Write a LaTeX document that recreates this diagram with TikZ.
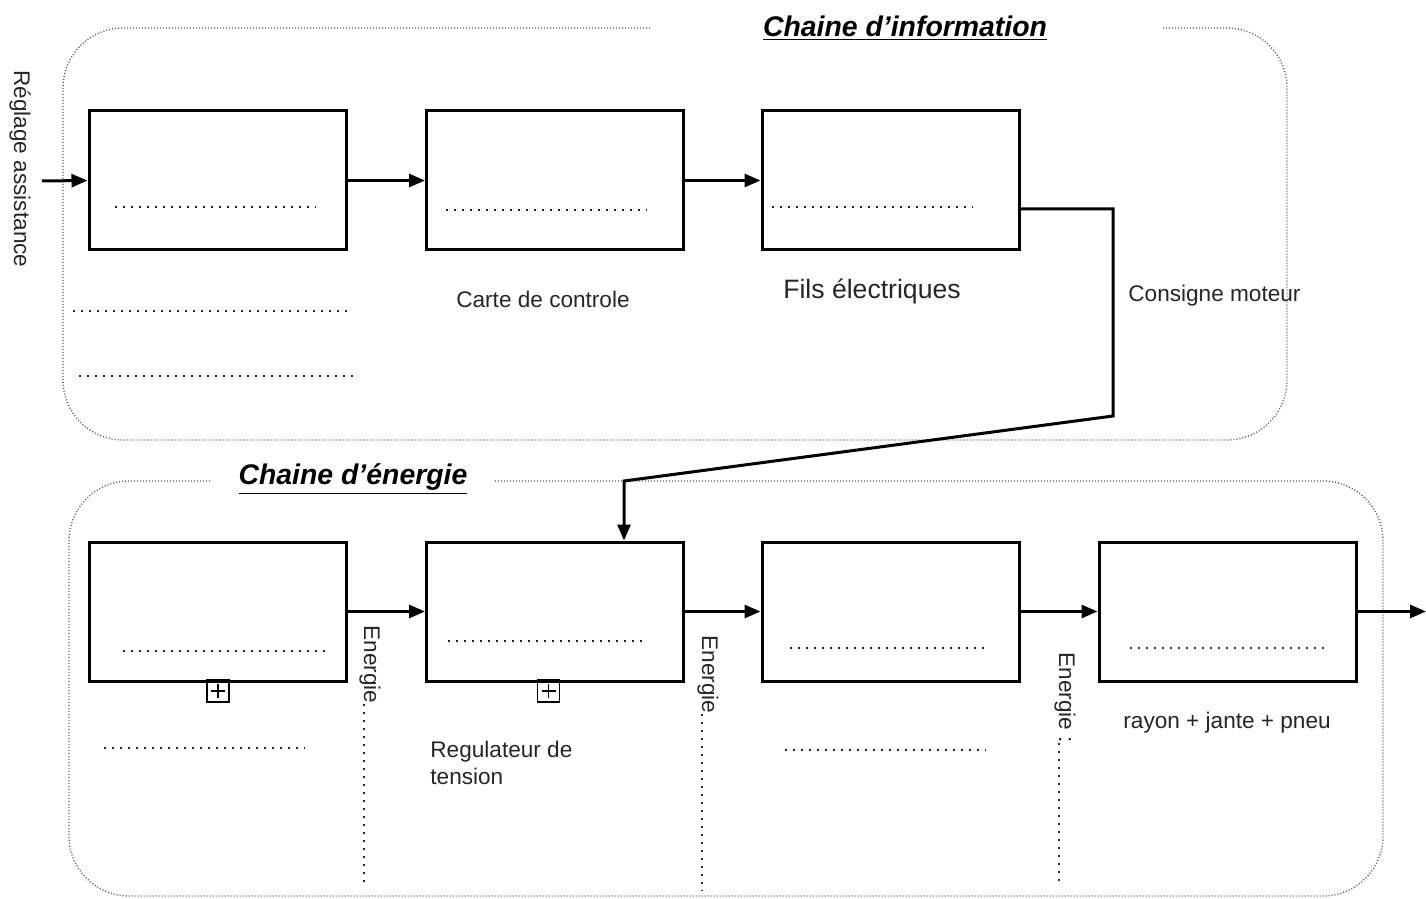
\documentclass[tikz,border=0pt]{standalone}
\usepackage{fontspec}
\setmainfont{Liberation Sans}
\usetikzlibrary{arrows.meta}
\begin{document}
\begin{tikzpicture}[x=0.5pt,y=-0.5pt,
  blk/.style={draw,line width=1.5pt,minimum width=128.5pt,minimum height=69.5pt,inner sep=0pt},
  arr/.style={line width=1.5pt,-{Triangle[length=8pt,width=6.5pt]}},
  frame/.style={draw=black!65,line width=0.7pt,dash pattern=on 0.5pt off 1pt,rounded corners=30pt},
  blank/.style={draw=black!85,line width=1.1pt,dash pattern=on 1pt off 3pt},
  lbl/.style={font=\fontsize{11.3}{13.5}\selectfont,text=black!85,inner sep=0pt},
  ttl/.style={font=\fontsize{14.2}{16}\selectfont\bfseries\itshape,inner sep=0pt},
  plusbox/.style={draw,line width=0.8pt,minimum size=11pt,inner sep=0pt}]
\useasboundingbox (0,0) rectangle (1426,899);

% frames
\draw[frame] (650,28) -- (63,28) -- (63,440) -- (1287,440) -- (1287,28) -- (1163,28);
\draw[frame] (210,481) -- (69,481) -- (69,896) -- (1383,896) -- (1383,481) -- (493,481);
\node[ttl] (t1) at (905,28) {\underline{Chaine d’information}};
\node[ttl] (t2) at (353,479) {\underline{Chaine d’énergie}};

% information chain
\node[blk] (i1) at (217.5,180.5) {};
\node[blk] (i2) at (555,180.5) {};
\node[blk] (i3) at (890.5,180.5) {};
\coordinate (in) at (42,181);
\draw[arr] (in) -- (i1.west);
\draw[arr] (i1.east) -- (i2.west);
\draw[arr] (i2.east) -- (i3.west);
\draw[blank] (115,207) -- (316,207);
\draw[blank] (446,210) -- (647,210);
\draw[blank] (772,207) -- (973,207);
\draw[blank] (73,311) -- (348,311);
\draw[blank] (79,376) -- (354,376);
\node[lbl,rotate=-90] (rg) at (20,169) {Réglage assistance};
\node[lbl] (cc) at (543,299) {Carte de controle};
\node[lbl,font=\fontsize{13.3}{15}\selectfont] (fe) at (872,291) {Fils électriques};
\node[lbl,anchor=west] (cm) at (1128,296) {Consigne moteur};

% energy chain
\node[blk] (e1) at (217.5,611.5) {};
\node[blk] (e2) at (555,611.5) {};
\node[blk] (e3) at (890.5,611.5) {};
\node[blk] (e4) at (1227.5,611.5) {};
\coordinate (out) at (1426,611.5);
\draw[arr] (e1.east) -- (e2.west);
\draw[arr] (e2.east) -- (e3.west);
\draw[arr] (e3.east) -- (e4.west);
\draw[arr] (e4.east) -- (out);

% consigne connector
\coordinate (k1) at (1113,209);
\coordinate (k2) at (1113,416);
\coordinate (k3) at (624,481);
\draw[arr] (i3.east |- k1) -- (k1) -- (k2) -- (k3) -- (k3 |- e2.north);

\draw[blank] (123,651) -- (325,651);
\draw[blank] (448,641) -- (648,641);
\draw[blank] (790,648) -- (990,648);
\draw[blank] (1130,648) -- (1330,648);
\draw[blank] (104,748) -- (305,748);
\draw[blank] (785,750) -- (986,750);

\node[plusbox] (p1) at (218,691) {};
\draw[line width=0.8pt] (211,691) -- (225,691) (218,684) -- (218,698);
\node[plusbox] (p2) at (548.5,691) {};
\draw[line width=0.8pt] (541.5,691) -- (555.5,691) (548.5,684) -- (548.5,698);

\node[lbl,anchor=west,align=left] (rt) at (430,763) {Regulateur de\\tension};
\node[lbl,anchor=west] (rj) at (1123,723) {rayon + jante + pneu};

\node[lbl,rotate=-90,anchor=west] (en1) at (370,625) {Energie};
\draw[blank] (en1.base east) -- (en1.base east |- 0,883);
\node[lbl,rotate=-90,anchor=west] (en2) at (708,635) {Energie};
\draw[blank] (en2.base east) -- (en2.base east |- 0,890);
\node[lbl,rotate=-90,anchor=west] (en3) at (1065,652) {Energie :};
\draw[blank] (en3.base east) -- (en3.base east |- 0,885);
\end{tikzpicture}
\end{document}
